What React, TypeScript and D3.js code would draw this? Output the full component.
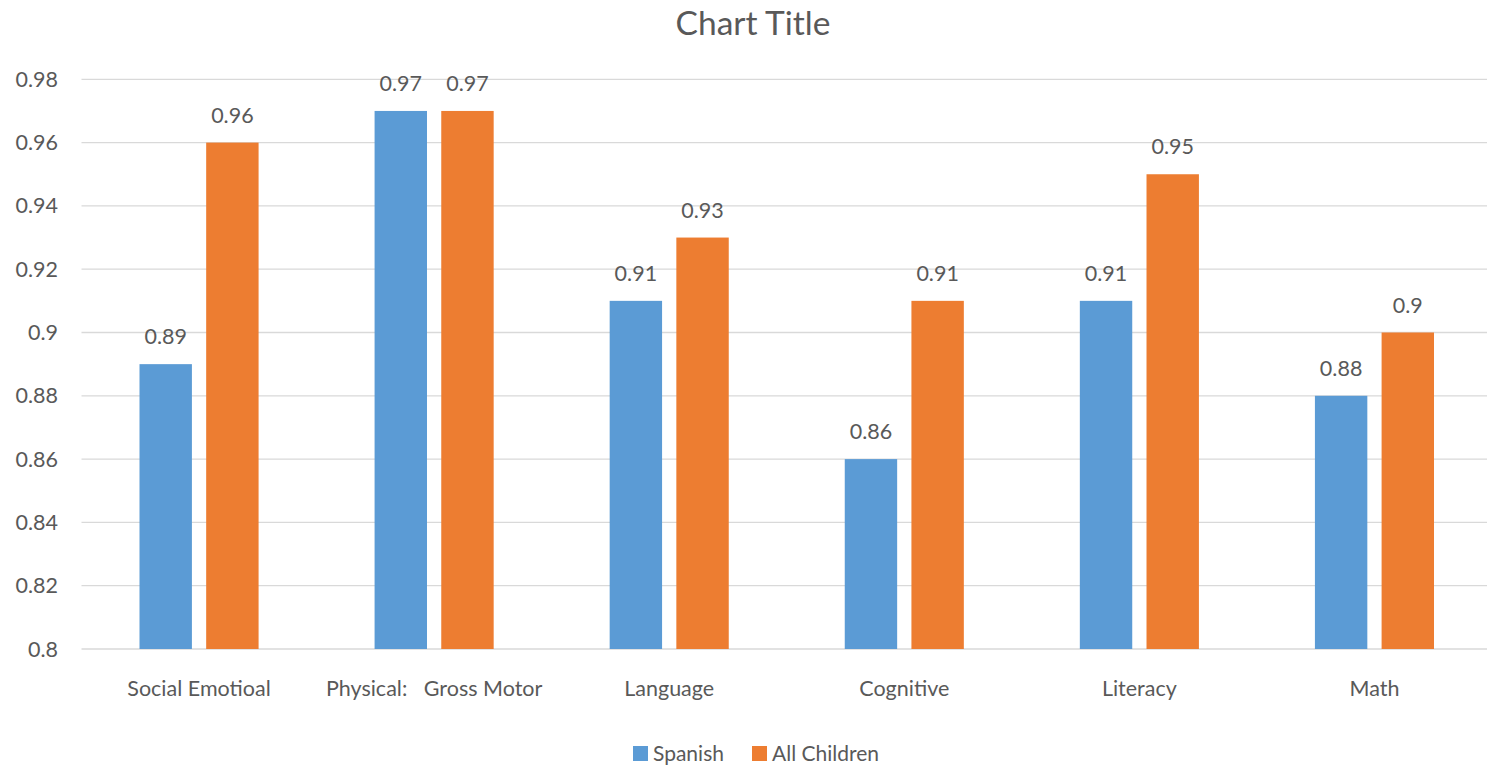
import React from "react";
import * as d3 from "d3";

const categories = ["Social Emotioal", "Physical:   Gross Motor", "Language", "Cognitive", "Literacy", "Math"];
const seriesNames = ["Spanish", "All Children"];
const spanish = [0.89, 0.97, 0.91, 0.86, 0.91, 0.88];
const allChildren = [0.96, 0.97, 0.93, 0.91, 0.95, 0.9];
const yTicks = [0.8, 0.82, 0.84, 0.86, 0.88, 0.9, 0.92, 0.94, 0.96, 0.98];
const colors = ["#5B9BD5", "#ED7D31"];

const W = 1487;
const H = 765;
const FONT = "Lato, 'Open Sans', sans-serif";
const TXT = "#595959";

export default function App() {
  const left = 81.5;
  const right = 1492;
  const top = 79.3;
  const bottom = 649;
  const x = d3.scaleBand<string>().domain(categories).range([left, right]).paddingInner(0).paddingOuter(0);
  const y = d3.scaleLinear().domain([0.8, 0.98]).range([bottom, top]);
  const inner = d3.scaleBand<string>().domain(seriesNames).range([58, x.bandwidth() - 58]).paddingInner(0.214).paddingOuter(0);
  const series = [spanish, allChildren];
  const fmt = (v: number) => String(+v.toFixed(2));

  return (
    <svg width={W} height={H} style={{ position: "absolute", left: 0, top: 0, background: "#fff" }} fontFamily={FONT}>
      <rect width={W} height={H} fill="#fff" />
      <text x={753} y={35} textAnchor="middle" fontSize={33.5} fill={TXT}>Chart Title</text>
      {yTicks.map((t) => (
        <g key={t}>
          <line x1={left} x2={right} y1={y(t)} y2={y(t)} stroke="#D9D9D9" strokeWidth={1.3} />
          <text x={58} y={y(t)} dy="0.35em" textAnchor="end" fontSize={21.5} fill={TXT}>{fmt(t)}</text>
        </g>
      ))}
      {categories.map((c, i) => (
        <g key={c} transform={`translate(${x(c)},0)`}>
          {series.map((s, j) => {
            const bx = inner(seriesNames[j])!;
            const bw = inner.bandwidth();
            return (
              <g key={j}>
                <rect x={bx} y={y(s[i])} width={bw} height={bottom - y(s[i])} fill={colors[j]} />
                <text x={bx + bw / 2} y={y(s[i]) - 20} textAnchor="middle" fontSize={21.5} fill={TXT}>{fmt(s[i])}</text>
              </g>
            );
          })}
          <text x={x.bandwidth() / 2} y={695.5} textAnchor="middle" fontSize={21.5} fill={TXT} style={{ whiteSpace: "pre" }}>{c}</text>
        </g>
      ))}
      {seriesNames.map((n, j) => {
        const lx = j === 0 ? 633 : 752;
        return (
          <g key={n}>
            <rect x={lx} y={746} width={15} height={15} fill={colors[j]} />
            <text x={lx + 20} y={761} fontSize={21} fill={TXT}>{n}</text>
          </g>
        );
      })}
    </svg>
  );
}
